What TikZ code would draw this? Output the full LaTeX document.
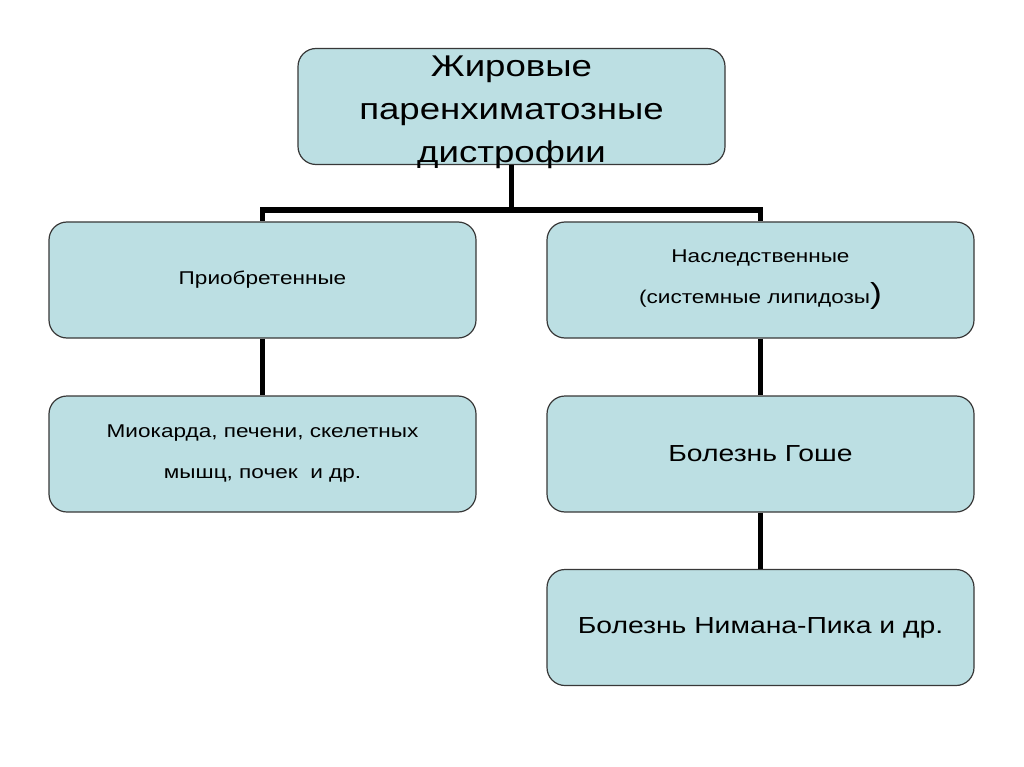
\documentclass[tikz,border=0pt]{standalone}
\usepackage{fontspec}
\setmainfont{Liberation Sans}[FakeStretch=1.22]
\usetikzlibrary{positioning}
\definecolor{boxfill}{HTML}{BCDFE3}
\definecolor{boxline}{HTML}{383838}

\begin{document}
\begin{tikzpicture}[x=1pt, y=-1pt,
		box/.style={draw=boxline, line width=1.2pt, fill=boxfill, rounded corners=18pt,
			minimum width=427pt, minimum height=116pt, inner sep=0pt, align=center},
		small/.style={font=\fontsize{18.5}{41}\selectfont},
		large/.style={font=\fontsize{23.2}{34}\selectfont},
		conn/.style={line width=5.5pt}]
			\useasboundingbox (0,0) rectangle (1024,767);

			\node [box, label={[name=fattext, align=center, yshift=-6pt,
				font=\fontsize{30}{43}\selectfont]center:Жировые\\паренхиматозные\\дистрофии}]
				(fat) at (511.5, 106.5) {};
			\node [box, small] (acq) at (262.5, 280) {Приобретенные};
			\node [box, small] (her) at (760.5, 280)
				{Наследственные\\(системные липидозы{\fontsize{29}{41}\selectfont)}};
			\node [box, small] (organs) at (262.5, 454)
				{Миокарда, печени, скелетных\\мышц, почек\ \ и др.};
			\node [box, large] (gaucher) at (760.5, 454) {Болезнь Гоше};
			\node [box, large] (niemann) at (760.5, 627.5) {Болезнь Нимана-Пика и др.};

			\draw [conn] (fat.south) -- ++(0, 45) -| (acq.north);
			\draw [conn] (fat.south) -- ++(0, 45) -| (her.north);
			\draw [conn] (acq) to (organs);
			\draw [conn] (her) to (gaucher);
			\draw [conn] (gaucher) to (niemann);
		\end{tikzpicture}
\end{document}
